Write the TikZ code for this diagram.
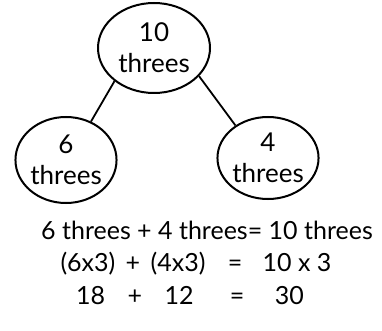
\documentclass[tikz,border=0pt]{standalone}
\usepackage{fontspec}
\setmainfont{Lato}
\usetikzlibrary{shapes.geometric, positioning}

\tikzset{
    group/.style={draw, ellipse, line width=2pt, align=center, inner sep=0pt,
        font=\fontsize{26}{31}\selectfont},
    eqline/.style={anchor=base, font=\fontsize{25}{28}\selectfont}
}

\begin{document}
\begin{tikzpicture}[x=1pt, y=-1pt]
    \useasboundingbox (0,0) rectangle (382,331);

    % ---------------- TREE ----------------
    \node[group, minimum width=112, minimum height=90] (ten) at (154,48) {10\\threes};
    \node[group, minimum width=98, minimum height=86] (six) at (66,160) {6\\threes};
    \node[group, minimum width=96, minimum height=82] (four) at (268,158) {4\\threes};

    \draw[line width=1.8pt] (ten.220) -- (six.57);
    \draw[line width=1.8pt] (ten.328) -- (four.135);

    % ---------------- EQUATIONS ----------------
    \node[eqline] (eqa) at (207,239) {6 threes + 4 threes= 10 threes};
    \node[eqline] (eqb) at (196,271) {(6x3)\hspace{4pt} + \hspace{4pt}(4x3)\hspace{16pt} = \hspace{14pt}10 x 3};
    \node[eqline] (eqc) at (190,304) {18\hspace{16pt} + \hspace{16pt}12\hspace{30pt} = \hspace{24pt}30};
\end{tikzpicture}
\end{document}
